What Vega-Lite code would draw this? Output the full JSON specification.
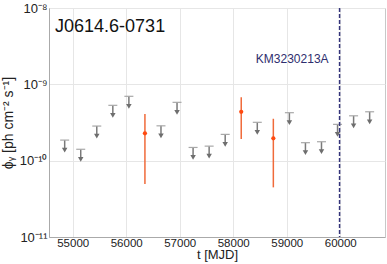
{
  "$schema": "https://vega.github.io/schema/vega-lite/v6.json",
  "autosize": "none",
  "width": 336,
  "height": 229,
  "padding": {"left": 49, "top": 8, "right": 2, "bottom": 27},
  "background": "white",
  "config": {
    "font": "Liberation Sans",
    "view": {"stroke": "#c8c8c8", "strokeWidth": 1},
    "axis": {"labelFont": "Liberation Sans", "titleFont": "Liberation Sans", "labelColor": "#222", "titleColor": "#222", "titleFontWeight": "normal", "gridColor": "#e6e6e6", "domainColor": "#aaaaaa", "ticks": false, "tickSize": 0}
  },
  "datasets": {
    "ul": [
      {"t": 54850, "ul": 1.86e-10},
      {"t": 55150, "ul": 1.41e-10},
      {"t": 55450, "ul": 2.84e-10},
      {"t": 55750, "ul": 5.31e-10},
      {"t": 56050, "ul": 6.97e-10},
      {"t": 56650, "ul": 2.86e-10},
      {"t": 56950, "ul": 5.81e-10},
      {"t": 57250, "ul": 1.49e-10},
      {"t": 57550, "ul": 1.55e-10},
      {"t": 57850, "ul": 2.21e-10},
      {"t": 58450, "ul": 3.18e-10},
      {"t": 59050, "ul": 4.25e-10},
      {"t": 59350, "ul": 1.72e-10},
      {"t": 59650, "ul": 1.77e-10},
      {"t": 59950, "ul": 2.99e-10},
      {"t": 60250, "ul": 3.87e-10},
      {"t": 60550, "ul": 4.37e-10}
    ],
    "det": [
      {"t": 56350, "flux": 2.28e-10, "lo": 4.93e-11, "hi": 4.08e-10},
      {"t": 58150, "flux": 4.37e-10, "lo": 1.92e-10, "hi": 6.76e-10},
      {"t": 58750, "flux": 1.96e-10, "lo": 4.47e-11, "hi": 3.54e-10}
    ],
    "event": [{"t": 59988, "name": "KM3230213A", "ty": 1.88e-9}],
    "src": [{"t": 54670, "name": "J0614.6-0731", "ty": 4.84e-9}]
  },
  "layer": [
    {
      "data": {"name": "ul"},
      "mark": {"type": "rule", "color": "#7a7a7a", "strokeWidth": 1.5, "y2Offset": 10},
      "encoding": {
        "x": {"field": "t", "type": "quantitative", "scale": {"domain": [54557, 60837], "nice": false, "zero": false},
          "axis": {"values": [55000, 56000, 57000, 58000, 59000, 60000], "format": "d", "grid": true, "labelFontSize": 11.5, "labelPadding": 0, "title": "t [MJD]", "titleFontSize": 13, "titlePadding": 0}},
        "y": {"field": "ul", "type": "quantitative", "scale": {"type": "log", "domain": [1e-11, 1e-8], "nice": false},
          "axis": {"values": [1e-11, 1e-10, 1e-9, 1e-8], "grid": true, "labelFontSize": 13, "labelPadding": 2,
            "labelExpr": "datum.value < 5e-11 ? '10⁻¹¹' : datum.value < 5e-10 ? '10⁻¹⁰' : datum.value < 5e-9 ? '10⁻⁹' : '10⁻⁸'",
            "title": "ϕᵧ [ph cm⁻² s⁻¹]", "titleFontSize": 14, "titlePadding": 4}},
        "y2": {"field": "ul"}
      }
    },
    {
      "data": {"name": "ul"},
      "mark": {"type": "point", "shape": "triangle-down", "filled": true, "color": "#6e6e6e", "opacity": 1, "size": 30, "yOffset": 10},
      "encoding": {
        "x": {"field": "t", "type": "quantitative"},
        "y": {"field": "ul", "type": "quantitative"}
      }
    },
    {
      "data": {"name": "ul"},
      "mark": {"type": "tick", "orient": "horizontal", "color": "#a8a8a8", "size": 9, "thickness": 1.2, "opacity": 1},
      "encoding": {
        "x": {"field": "t", "type": "quantitative"},
        "y": {"field": "ul", "type": "quantitative"}
      }
    },
    {
      "data": {"name": "det"},
      "mark": {"type": "rule", "color": "#f06a3a", "strokeWidth": 1.5},
      "encoding": {
        "x": {"field": "t", "type": "quantitative"},
        "y": {"field": "lo", "type": "quantitative"},
        "y2": {"field": "hi"}
      }
    },
    {
      "data": {"name": "det"},
      "mark": {"type": "point", "shape": "circle", "filled": true, "color": "#ff4a10", "opacity": 1, "size": 18},
      "encoding": {
        "x": {"field": "t", "type": "quantitative"},
        "y": {"field": "flux", "type": "quantitative"}
      }
    },
    {
      "data": {"name": "event"},
      "mark": {"type": "rule", "color": "#34347a", "strokeWidth": 1.5, "strokeDash": [4, 2]},
      "encoding": {
        "x": {"field": "t", "type": "quantitative"}
      }
    },
    {
      "data": {"name": "event"},
      "mark": {"type": "text", "align": "right", "baseline": "alphabetic", "dx": -11, "fontSize": 12, "color": "#2e2e6e", "font": "Liberation Sans"},
      "encoding": {
        "x": {"field": "t", "type": "quantitative"},
        "y": {"field": "ty", "type": "quantitative"},
        "text": {"field": "name"}
      }
    },
    {
      "data": {"name": "src"},
      "mark": {"type": "text", "align": "left", "baseline": "alphabetic", "fontSize": 18, "color": "#111", "font": "Liberation Sans"},
      "encoding": {
        "x": {"field": "t", "type": "quantitative"},
        "y": {"field": "ty", "type": "quantitative"},
        "text": {"field": "name"}
      }
    }
  ]
}
